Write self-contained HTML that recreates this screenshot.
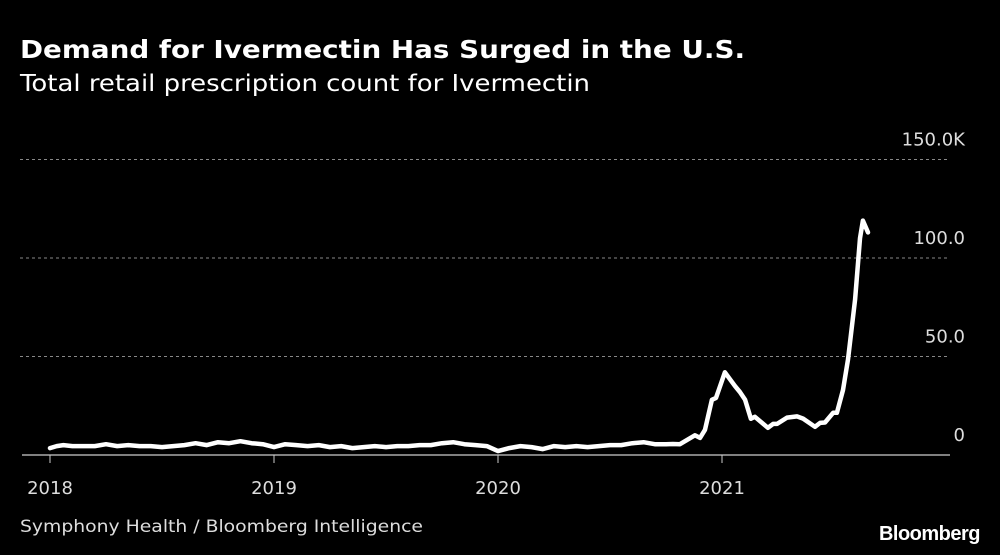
<!DOCTYPE html>
<html><head><meta charset="utf-8"><style>
body{margin:0;background:#000;width:1000px;height:555px;overflow:hidden;font-family:"DejaVu Sans","Liberation Sans",sans-serif;color:#fff}
svg{position:absolute;left:0;top:0}
</style></head><body>
<svg width="1000" height="555">
<text x="20" y="58" font-size="25" font-weight="bold" fill="#fff" textLength="725" lengthAdjust="spacingAndGlyphs">Demand for Ivermectin Has Surged in the U.S.</text>
<text x="20" y="91" font-size="23" fill="#fff" textLength="570" lengthAdjust="spacingAndGlyphs">Total retail prescription count for Ivermectin</text>
<g id="grid"></g><g id="xaxis"></g>
<path id="line" fill="none" stroke="#fff" stroke-width="4.5" stroke-linejoin="round" stroke-linecap="round"/>
<text x="20" y="532" font-size="17" fill="#ddd" textLength="403" lengthAdjust="spacingAndGlyphs">Symphony Health / Bloomberg Intelligence</text>
<text x="980" y="540" font-size="20" font-weight="bold" fill="#fff" text-anchor="end" letter-spacing="-0.5" font-family="Liberation Sans">Bloomberg</text>
</svg>
<script>
const yTicks=[0,50,100,150];
const yTickLabels=["0","50.0","100.0","150.0K"];
const xTicks=[2018,2019,2020,2021];
const dates=[2018.0,2018.03,2018.06,2018.1,2018.15,2018.2,2018.25,2018.3,2018.35,2018.4,2018.45,2018.5,2018.55,2018.6,2018.65,2018.7,2018.75,2018.8,2018.85,2018.9,2018.95,2019.0,2019.05,2019.1,2019.15,2019.2,2019.25,2019.3,2019.35,2019.4,2019.45,2019.5,2019.55,2019.6,2019.65,2019.7,2019.75,2019.8,2019.85,2019.9,2019.95,2020.0,2020.05,2020.1,2020.15,2020.2,2020.25,2020.3,2020.35,2020.4,2020.45,2020.5,2020.55,2020.6,2020.65,2020.7,2020.75,2020.781,2020.812,2020.879,2020.902,2020.924,2020.955,2020.973,2021.013,2021.058,2021.08,2021.103,2021.129,2021.147,2021.205,2021.228,2021.246,2021.29,2021.335,2021.362,2021.415,2021.438,2021.46,2021.496,2021.513,2021.54,2021.5625,2021.594,2021.616,2021.629,2021.652];
const values=[3.5,4.5,5,4.5,4.5,4.5,5.5,4.5,5,4.5,4.5,4,4.5,5,6,5,6.5,6,7,6,5.5,4,5.5,5,4.5,5,4,4.5,3.5,4,4.5,4,4.5,4.5,5,5,6,6.5,5.5,5,4.5,2,3.5,4.5,4,3,4.5,4,4.5,4,4.5,5,5,6,6.5,5.5,5.5,5.6,5.5,10,8.7,12.8,28,29,42,35,32,28,18.4,19.4,13.8,15.8,15.8,19,19.6,18.5,14.3,16.3,16.5,21.4,21.4,33,48.5,79,110,119,113];
const NS="http://www.w3.org/2000/svg";
const x=d=>50+(d-2018)*224;
const y=v=>455-v*1.97;
const grid=document.getElementById('grid');
yTicks.forEach((t,i)=>{
 if(t>0){const l=document.createElementNS(NS,'line');
 l.setAttribute('x1',20);l.setAttribute('x2',950);l.setAttribute('y1',y(t));l.setAttribute('y2',y(t));
 l.setAttribute('stroke','#888');l.setAttribute('stroke-dasharray','3,3');l.setAttribute('stroke-width','1');
 
 
 grid.appendChild(l);}
 const tx=document.createElementNS(NS,'text');
 tx.setAttribute('x',965);tx.setAttribute('y',y(t)-14);tx.setAttribute('text-anchor','end');
 tx.setAttribute('font-size','18');tx.setAttribute('fill','#ddd');tx.textContent=yTickLabels[i];
 
 
 grid.appendChild(tx);
});
const xa=document.getElementById('xaxis');
const ax=document.createElementNS(NS,'line');
ax.setAttribute('x1',22);ax.setAttribute('x2',950);ax.setAttribute('y1',455);ax.setAttribute('y2',455);ax.setAttribute('stroke','#ccc');ax.setAttribute('stroke-width','1.3');


xa.appendChild(ax);
xTicks.forEach(t=>{
 const l=document.createElementNS(NS,'line');
 l.setAttribute('x1',x(t));l.setAttribute('x2',x(t));l.setAttribute('y1',455);l.setAttribute('y2',463);l.setAttribute('stroke','#ccc');
 
 
 xa.appendChild(l);
 const tx=document.createElementNS(NS,'text');
 tx.setAttribute('x',x(t));tx.setAttribute('y',494);tx.setAttribute('text-anchor','middle');
 tx.setAttribute('font-size','18');tx.setAttribute('fill','#ddd');tx.textContent=t;
 
 
 xa.appendChild(tx);
});
document.getElementById('line').setAttribute('d',dates.map((d,i)=>(i?'L':'M')+x(d).toFixed(1)+','+y(values[i]).toFixed(1)).join(''));
</script>
</body></html>
